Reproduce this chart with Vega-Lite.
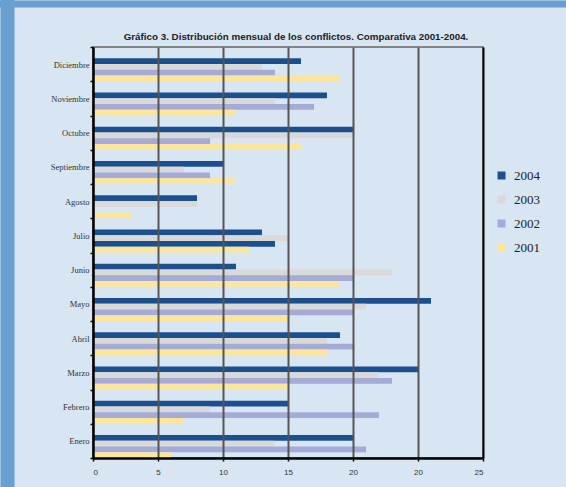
{
  "$schema": "https://vega.github.io/schema/vega-lite/v6.json",
  "width": 390,
  "height": 411,
  "autosize": {"type": "none"},
  "padding": {"left": 93, "top": 47, "right": 83, "bottom": 29},
  "background": "#d8e5f2",
  "title": {
    "text": "Gráfico 3. Distribución mensual de los conflictos. Comparativa 2001-2004.",
    "font": "Liberation Sans",
    "fontSize": 9.8,
    "fontWeight": "bold",
    "color": "#222222",
    "anchor": "middle",
    "frame": "group",
    "dx": 8,
    "offset": -442
  },
  "config": {"view": {"stroke": "#666666", "strokeWidth": 1.5, "fill": "#d8e5f2"}},
  "data": {
    "values": [
      {"mes": "Diciembre", "anio": "2004", "valor": 16},
      {"mes": "Diciembre", "anio": "2003", "valor": 13},
      {"mes": "Diciembre", "anio": "2002", "valor": 14},
      {"mes": "Diciembre", "anio": "2001", "valor": 19},
      {"mes": "Noviembre", "anio": "2004", "valor": 18},
      {"mes": "Noviembre", "anio": "2003", "valor": 14},
      {"mes": "Noviembre", "anio": "2002", "valor": 17},
      {"mes": "Noviembre", "anio": "2001", "valor": 11},
      {"mes": "Octubre", "anio": "2004", "valor": 20},
      {"mes": "Octubre", "anio": "2003", "valor": 20},
      {"mes": "Octubre", "anio": "2002", "valor": 9},
      {"mes": "Octubre", "anio": "2001", "valor": 16},
      {"mes": "Septiembre", "anio": "2004", "valor": 10},
      {"mes": "Septiembre", "anio": "2003", "valor": 7},
      {"mes": "Septiembre", "anio": "2002", "valor": 9},
      {"mes": "Septiembre", "anio": "2001", "valor": 11},
      {"mes": "Agosto", "anio": "2004", "valor": 8},
      {"mes": "Agosto", "anio": "2003", "valor": 8},
      {"mes": "Agosto", "anio": "2002", "valor": 0},
      {"mes": "Agosto", "anio": "2001", "valor": 3},
      {"mes": "Julio", "anio": "2004", "valor": 13},
      {"mes": "Julio", "anio": "2003", "valor": 15},
      {"mes": "Julio", "anio": "2002", "valor": 14},
      {"mes": "Julio", "anio": "2001", "valor": 12},
      {"mes": "Junio", "anio": "2004", "valor": 11},
      {"mes": "Junio", "anio": "2003", "valor": 23},
      {"mes": "Junio", "anio": "2002", "valor": 20},
      {"mes": "Junio", "anio": "2001", "valor": 19},
      {"mes": "Mayo", "anio": "2004", "valor": 26},
      {"mes": "Mayo", "anio": "2003", "valor": 21},
      {"mes": "Mayo", "anio": "2002", "valor": 20},
      {"mes": "Mayo", "anio": "2001", "valor": 15},
      {"mes": "Abril", "anio": "2004", "valor": 19},
      {"mes": "Abril", "anio": "2003", "valor": 18},
      {"mes": "Abril", "anio": "2002", "valor": 20},
      {"mes": "Abril", "anio": "2001", "valor": 18},
      {"mes": "Marzo", "anio": "2004", "valor": 25},
      {"mes": "Marzo", "anio": "2003", "valor": 22},
      {"mes": "Marzo", "anio": "2002", "valor": 23},
      {"mes": "Marzo", "anio": "2001", "valor": 15},
      {"mes": "Febrero", "anio": "2004", "valor": 15},
      {"mes": "Febrero", "anio": "2003", "valor": 9},
      {"mes": "Febrero", "anio": "2002", "valor": 22},
      {"mes": "Febrero", "anio": "2001", "valor": 7},
      {"mes": "Enero", "anio": "2004", "valor": 20},
      {"mes": "Enero", "anio": "2003", "valor": 14},
      {"mes": "Enero", "anio": "2002", "valor": 21},
      {"mes": "Enero", "anio": "2001", "valor": 6}
    ]
  },
  "resolve": {"axis": {"x": "independent", "y": "independent"}},
  "layer": [
    {
      "mark": {"type": "bar"},
      "encoding": {
        "y": {
          "field": "mes",
          "type": "nominal",
          "sort": ["Diciembre", "Noviembre", "Octubre", "Septiembre", "Agosto", "Julio", "Junio", "Mayo", "Abril", "Marzo", "Febrero", "Enero"],
          "scale": {"paddingInner": 0, "paddingOuter": 0},
          "axis": {
            "title": null,
            "tickBand": "extent",
            "domainColor": "black",
            "domainWidth": 2,
            "tickColor": "black",
            "tickSize": 3,
            "tickWidth": 1.5,
            "labelFont": "Liberation Serif",
            "labelFontSize": 8.5,
            "labelColor": "#333333",
            "labelPadding": 1,
            "grid": false,
            "zindex": 1
          }
        },
        "yOffset": {
          "field": "anio",
          "type": "nominal",
          "sort": ["2004", "2003", "2002", "2001"],
          "scale": {"paddingInner": 0, "paddingOuter": 0.978, "align": 1}
        },
        "x": {
          "field": "valor",
          "type": "quantitative",
          "scale": {"domain": [0, 30], "nice": false},
          "axis": {
            "title": null,
            "values": [0, 5, 10, 15, 20, 25, 30],
            "labelExpr": "datum.value == 25 ? '20' : datum.value == 30 ? '25' : datum.label",
            "grid": true,
            "gridColor": {"condition": {"test": "datum.value === 30 || datum.value === 0", "value": "black"}, "value": "#555555"},
            "gridWidth": 2,
            "domainColor": "black",
            "domainWidth": 2.5,
            "tickColor": "black",
            "tickSize": 3,
            "tickWidth": 1.5,
            "labelFont": "Liberation Sans",
            "labelFontSize": 8,
            "labelColor": "#333333",
            "labelPadding": 7,
            "zindex": 1
          }
        },
        "color": {
          "field": "anio",
          "type": "nominal",
          "condition": {"test": "datum.mes === 'Julio' && datum.anio === '2002'", "value": "#1b4f8e"},
          "scale": {"domain": ["2004", "2003", "2002", "2001"], "range": ["#1b4f8e", "#d9d9d9", "#a3abd6", "#fde59b"]},
          "legend": {
            "title": null,
            "orient": "none",
            "legendX": 402,
            "legendY": 122,
            "padding": 0,
            "symbolType": "square",
            "symbolSize": 64,
            "symbolStrokeWidth": 0,
            "labelFont": "Liberation Serif",
            "labelFontSize": 13,
            "labelColor": "#222222",
            "labelOffset": 6,
            "rowPadding": 10
          }
        }
      }
    },
    {
      "mark": {"type": "bar", "opacity": 0},
      "encoding": {
        "y": {
          "field": "mes",
          "type": "nominal",
          "sort": ["Diciembre", "Noviembre", "Octubre", "Septiembre", "Agosto", "Julio", "Junio", "Mayo", "Abril", "Marzo", "Febrero", "Enero"],
          "axis": null
        },
        "x": {
          "field": "valor",
          "type": "quantitative",
          "scale": {"domain": [0, 30], "nice": false},
          "axis": {
            "orient": "top",
            "title": null,
            "offset": 40,
            "domain": false,
            "labels": false,
            "grid": false,
            "values": [15],
            "tickSize": 7,
            "tickWidth": 800,
            "tickColor": "#67a0d1",
            "tickCap": "butt",
            "zindex": 0
          }
        }
      }
    },
    {
      "mark": {"type": "bar", "opacity": 0},
      "encoding": {
        "y": {
          "field": "mes",
          "type": "nominal",
          "sort": ["Diciembre", "Noviembre", "Octubre", "Septiembre", "Agosto", "Julio", "Junio", "Mayo", "Abril", "Marzo", "Febrero", "Enero"],
          "axis": {
            "orient": "left",
            "title": null,
            "offset": 79,
            "domain": false,
            "labels": false,
            "grid": false,
            "values": ["Julio"],
            "tickSize": 14,
            "tickWidth": 506,
            "tickColor": "#67a0d1",
            "tickCap": "butt",
            "zindex": 0
          }
        },
        "x": {
          "field": "valor",
          "type": "quantitative",
          "scale": {"domain": [0, 30], "nice": false},
          "axis": null
        }
      }
    }
  ]
}
